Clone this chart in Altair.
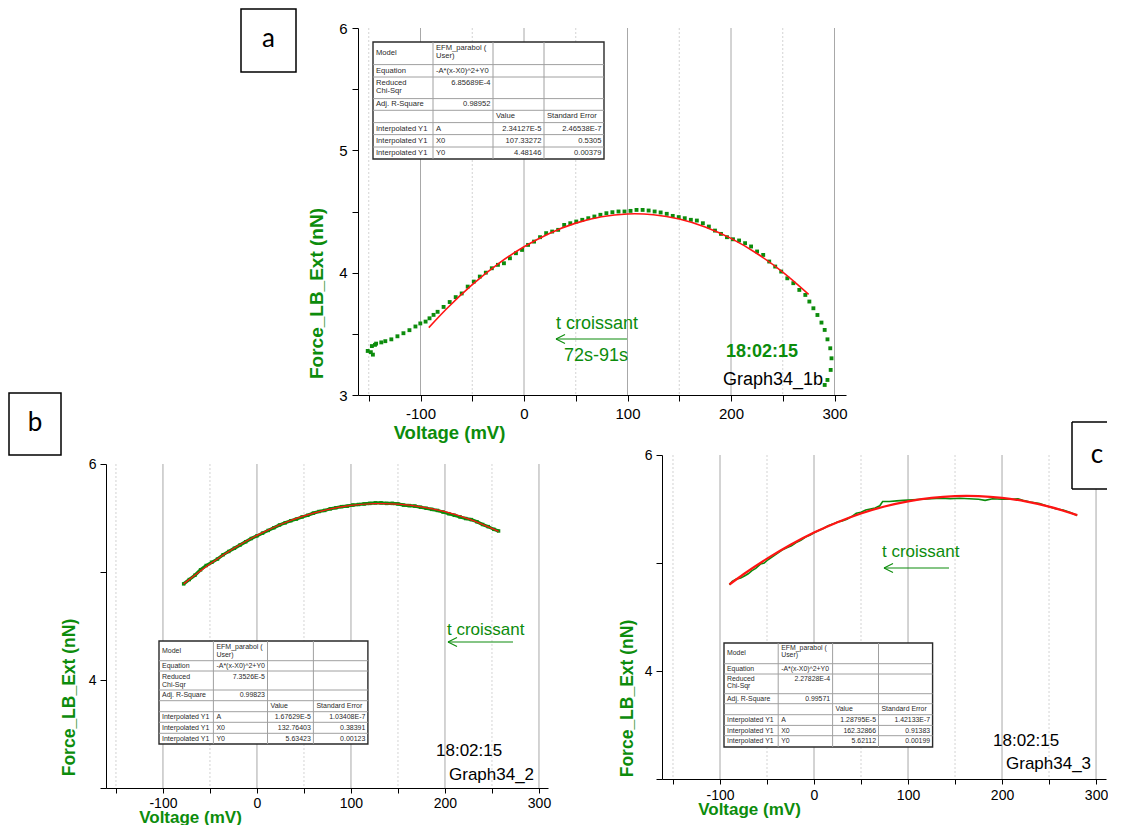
import altair as alt
import pandas as pd

FONT = "Liberation Sans"
GREEN = "#0c8c0c"
RED = "#ff1414"
DUMMY = pd.DataFrame({"d": [0]})

# ---------------- panel a : measured points + fit ----------------
a_volt = [-151, -148, -146, -147, -144, -142.9, -137.9, -134, -128.2, -122.3,
          -116.5, -110.7, -104.9, -100.2, -95.1, -91.3, -87.4, -83.5, -77.7, -71.8,
          -66, -60.2, -54.4, -48.5, -42.7, -36.9, -31.1, -25.2, -19.4, -13.6,
          -7.8, -1.9, 3.9, 9.7, 15.5, 21.4, 27.2, 33, 38.8, 44.7,
          50.5, 56.3, 62.1, 68, 73.8, 79.6, 85.4, 91.3, 97.1, 102.9,
          108.7, 114.6, 120.4, 126.2, 132, 137.9, 143.7, 149.5, 155.3, 161.2,
          167, 172.8, 178.6, 184.5, 190.3, 196.1, 201.9, 207.8, 213.6, 219.4,
          225.2, 231.1, 236.9, 242.7, 248.5, 254.4, 260.2, 266, 271.8, 275.7,
          279.6, 283.5, 287.4, 290.5, 293.2, 295.9, 297.1, 296.3, 293.2, 290.5]
a_force = [3.36, 3.35, 3.33, 3.40, 3.41, 3.42, 3.43, 3.44, 3.455, 3.48,
           3.505, 3.53, 3.56, 3.585, 3.60, 3.627, 3.655, 3.68, 3.72, 3.76,
           3.80, 3.83, 3.886, 3.927, 3.968, 4.00, 4.036, 4.064, 4.077, 4.118,
           4.159, 4.186, 4.227, 4.254, 4.29, 4.323, 4.336, 4.35, 4.39, 4.404,
           4.418, 4.432, 4.445, 4.459, 4.473, 4.486, 4.494, 4.50, 4.50, 4.505,
           4.513, 4.513, 4.508, 4.50, 4.492, 4.481, 4.464, 4.454, 4.445, 4.432,
           4.426, 4.404, 4.377, 4.344, 4.317, 4.29, 4.273, 4.263, 4.241, 4.214,
           4.173, 4.145, 4.091, 4.05, 4.009, 3.954, 3.914, 3.859, 3.818, 3.764,
           3.709, 3.654, 3.592, 3.532, 3.455, 3.382, 3.30, 3.205, 3.123, 3.082]
a_fit_volt = [-92, -75, -50, -25, 0, 25, 50, 75, 100, 107, 125, 150, 175, 200, 225, 250, 275]
a_fit_force = [3.551, 3.703, 3.902, 4.072, 4.212, 4.323, 4.405, 4.457, 4.480, 4.4815,
               4.474, 4.439, 4.374, 4.280, 4.157, 4.005, 3.823]

# ---------------- panel b ----------------
b_volt = [-78, -72, -66, -60, -54, -48, -42, -36, -30, -24, -18, -12, -6, 0, 6, 12, 18, 24, 30,
          36, 42, 48, 54, 60, 66, 72, 78, 84, 90, 96, 102, 108, 114, 120, 126, 132, 138, 144,
          150, 156, 162, 168, 174, 180, 186, 192, 198, 204, 210, 216, 222, 228, 234, 240, 246,
          252, 257]
b_force = [4.89, 4.93, 4.97, 5.02, 5.06, 5.09, 5.12, 5.16, 5.19, 5.22, 5.25, 5.28, 5.31, 5.335,
           5.36, 5.385, 5.41, 5.435, 5.455, 5.475, 5.49, 5.51, 5.525, 5.545, 5.56, 5.57, 5.585,
           5.595, 5.605, 5.61, 5.62, 5.625, 5.63, 5.635, 5.64, 5.64, 5.635, 5.635, 5.63, 5.62,
           5.615, 5.61, 5.60, 5.59, 5.58, 5.57, 5.555, 5.54, 5.525, 5.51, 5.495, 5.485, 5.465,
           5.44, 5.42, 5.395, 5.38]
b_fit_volt = [-78, -50, -25, 0, 25, 50, 75, 100, 125, 133, 150, 175, 200, 225, 257]
b_fit_force = [4.890, 5.074, 5.217, 5.339, 5.440, 5.519, 5.578, 5.616, 5.633, 5.634,
               5.629, 5.604, 5.558, 5.492, 5.376]

# ---------------- panel c ----------------
c_volt = [-90, -87, -83, -78, -74, -70, -66, -62, -57, -53, -49, -44, -39, -34, -29, -24, -19,
          -14, -9, -4, 0, 5, 10, 15, 20, 25, 30, 35, 40, 45, 50, 55, 60, 65, 70, 73, 80, 88,
          95, 105, 115, 125, 135, 145, 155, 165, 175, 182, 190, 200, 210, 217, 222, 230, 240,
          250, 258, 265, 272, 280]
c_force = [4.80, 4.83, 4.85, 4.86, 4.88, 4.90, 4.93, 4.95, 4.99, 5.00, 5.03, 5.06, 5.09, 5.12,
           5.14, 5.16, 5.19, 5.21, 5.24, 5.26, 5.28, 5.30, 5.32, 5.345, 5.36, 5.38, 5.39, 5.405,
           5.43, 5.46, 5.47, 5.49, 5.50, 5.51, 5.53, 5.57, 5.57, 5.575, 5.58, 5.585, 5.59, 5.595,
           5.60, 5.595, 5.60, 5.595, 5.59, 5.58, 5.595, 5.59, 5.59, 5.595, 5.58, 5.565, 5.55,
           5.52, 5.50, 5.49, 5.47, 5.44]
c_fit_volt = [-90, -75, -50, -25, 0, 25, 50, 75, 100, 125, 150, 162, 175, 200, 225, 250, 280]
c_fit_force = [4.801, 4.896, 5.040, 5.169, 5.282, 5.378, 5.459, 5.523, 5.571, 5.603,
               5.619, 5.621, 5.619, 5.603, 5.571, 5.522, 5.443]

# ---------------- axes ticks ----------------
x_ticks = [-150, -100, -50, 0, 50, 100, 150, 200, 250, 300]
grid_major = [-100, 0, 100, 200, 300]
grid_minor = [-150, -50, 50, 150, 250]
ya_ticks = [3, 3.5, 4, 4.5, 5, 5.5, 6]
ybc_ticks = [3, 4, 5, 6]

# ---------------- fit tables ----------------
table_a = [
    ["Model", "EFM_parabol (\nUser)", "", ""],
    ["Equation", "-A*(x-X0)^2+Y0", "", ""],
    ["Reduced\nChi-Sqr", "6.85689E-4", "", ""],
    ["Adj. R-Square", "0.98952", "", ""],
    ["", "", "Value", "Standard Error"],
    ["Interpolated Y1", "A", "2.34127E-5", "2.46538E-7"],
    ["Interpolated Y1", "X0", "107.33272", "0.5305"],
    ["Interpolated Y1", "Y0", "4.48146", "0.00379"],
]
table_b = [
    ["Model", "EFM_parabol (\nUser)", "", ""],
    ["Equation", "-A*(x-X0)^2+Y0", "", ""],
    ["Reduced\nChi-Sqr", "7.3526E-5", "", ""],
    ["Adj. R-Square", "0.99823", "", ""],
    ["", "", "Value", "Standard Error"],
    ["Interpolated Y1", "A", "1.67629E-5", "1.03408E-7"],
    ["Interpolated Y1", "X0", "132.76403", "0.38391"],
    ["Interpolated Y1", "Y0", "5.63423", "0.00123"],
]
table_c = [
    ["Model", "EFM_parabol (\nUser)", "", ""],
    ["Equation", "-A*(x-X0)^2+Y0", "", ""],
    ["Reduced\nChi-Sqr", "2.27828E-4", "", ""],
    ["Adj. R-Square", "0.99571", "", ""],
    ["", "", "Value", "Standard Error"],
    ["Interpolated Y1", "A", "1.28795E-5", "1.42133E-7"],
    ["Interpolated Y1", "X0", "162.32866", "0.91383"],
    ["Interpolated Y1", "Y0", "5.62112", "0.00199"],
]


# ---------------- helpers ----------------
def txt(s, x, y, fs, color="black", align="left", weight="normal", font=FONT, baseline="middle"):
    return alt.Chart(DUMMY).mark_text(text=s, align=align, baseline=baseline, fontSize=fs,
                                      color=color, fontWeight=weight, font=font,
                                      lineHeight=fs * 1.15).encode(
        x=alt.value(x), y=alt.value(y))


def seg(x1, y1, x2, y2, color="black", width=1.0):
    return alt.Chart(DUMMY).mark_rule(color=color, strokeWidth=width).encode(
        x=alt.value(x1), y=alt.value(y1), x2=alt.value(x2), y2=alt.value(y2))


def box(x1, y1, x2, y2, fill="white", stroke="black", sw=1.0):
    return alt.Chart(DUMMY).mark_rect(fill=fill, stroke=stroke, strokeWidth=sw).encode(
        x=alt.value(x1), y=alt.value(y1), x2=alt.value(x2), y2=alt.value(y2))


def is_num(s):
    try:
        float(s)
        return True
    except ValueError:
        return False


def fit_table(x0, y0, col_w, row_h, cells, fs):
    xs = [x0]
    for w in col_w:
        xs.append(xs[-1] + w)
    ys = [y0]
    for h in row_h:
        ys.append(ys[-1] + h)
    layers = [box(xs[0], ys[0], xs[-1], ys[-1], fill="white", stroke="#2a2a2a", sw=1.4)]
    for y in ys[1:-1]:
        layers.append(seg(xs[0], y, xs[-1], y, color="#a0a0a0", width=1))
    for x in xs[1:-1]:
        layers.append(seg(x, ys[0], x, ys[-1], color="#a0a0a0", width=1))
    for r, row in enumerate(cells):
        row_multi = any("\n" in t for t in row)
        for c, s in enumerate(row):
            if not s:
                continue
            num = is_num(s)
            multi = "\n" in s
            x = xs[c + 1] - 2.5 if num else xs[c] + 3
            align = "right" if num else "left"
            if multi or (num and row_multi):
                content = s.split("\n") if multi else s
                layers.append(txt(content, x, ys[r] + 1.5, fs, color="#2a2a2a",
                                  align=align, baseline="top"))
            else:
                layers.append(txt(s, x, (ys[r] + ys[r + 1]) / 2, fs, color="#2a2a2a",
                                  align=align))
    return layers


def arrow(x1, x2, y, color=GREEN):
    return [seg(x1, y, x2, y, color, 1.2),
            seg(x1, y, x1 + 9, y - 4.5, color, 1.2),
            seg(x1, y, x1 + 9, y + 4.5, color, 1.2)]


def x_axis(fs_lab, fs_title, tx, ty, tick, pad):
    return alt.Axis(values=x_ticks,
                    labelExpr="datum.value % 100 == 0 ? '' + datum.value : ''",
                    grid=False, domainColor="black", domainWidth=1, tickColor="black",
                    tickSize=tick, labelFont=FONT, labelFontSize=fs_lab, labelColor="black",
                    labelPadding=pad, labelFlush=False, labelOverlap=False,
                    title="Voltage (mV)", titleFont=FONT, titleFontSize=fs_title,
                    titleFontWeight="bold", titleColor=GREEN, titleX=tx, titleY=ty,
                    titleAlign="center", titleBaseline="middle")


def y_axis(values, expr, fs_lab, fs_title, tx, ty, tick, pad):
    return alt.Axis(values=values, labelExpr=expr, grid=False, domainColor="black",
                    domainWidth=1, tickColor="black", tickSize=tick, labelFont=FONT,
                    labelFontSize=fs_lab, labelColor="black", labelPadding=pad,
                    labelFlush=False, labelOverlap=False,
                    title="Force_LB_Ext (nN)", titleFont=FONT, titleFontSize=fs_title,
                    titleFontWeight="bold", titleColor=GREEN, titleX=tx, titleY=ty,
                    titleAngle=270, titleAlign="center", titleBaseline="middle")


def grid_layers(xs, xa):
    g1 = alt.Chart(pd.DataFrame({"g": grid_major})).mark_rule(
        color="#a8a8a8", strokeWidth=1).encode(x=alt.X("g:Q", scale=xs, axis=xa))
    g2 = alt.Chart(pd.DataFrame({"g": grid_minor})).mark_rule(
        color="#c8c8c8", strokeWidth=0.8, strokeDash=[2, 2]).encode(
        x=alt.X("g:Q", scale=xs, axis=xa))
    return [g1, g2]


NOVIEW = alt.ViewBackground(stroke="transparent", strokeOpacity=0, fill="transparent")

# ---------------- panel a ----------------
xs_a = alt.Scale(domain=[-160.4, 311.1], nice=False, zero=False)
ys_a = alt.Scale(domain=[3, 6], nice=False, zero=False)
xa_a = x_axis(15, 18.5, 91, 37, 6, 5)
ya_a = y_axis(ya_ticks, "datum.value % 1 == 0 ? '' + datum.value : ''", 15, 19, -42, 265, 6, 5)

df_a = pd.DataFrame({"v": a_volt, "f": a_force})
df_af = pd.DataFrame({"v": a_fit_volt, "f": a_fit_force})
layers_a = grid_layers(xs_a, xa_a)
layers_a += fit_table(15, 14, [60, 60, 51, 60], [22.6, 12.4, 21.6, 11.7, 12.3, 12, 12.4, 12], table_a, 7.6)
layers_a.append(alt.Chart(df_a).mark_square(size=15, color=GREEN, opacity=1).encode(
    x=alt.X("v:Q", scale=xs_a, axis=xa_a), y=alt.Y("f:Q", scale=ys_a, axis=ya_a)))
layers_a.append(alt.Chart(df_af).mark_line(color=RED, strokeWidth=1.6, interpolate="monotone").encode(
    x=alt.X("v:Q", scale=xs_a, axis=xa_a), y=alt.Y("f:Q", scale=ys_a, axis=ya_a)))
layers_a.append(txt("t croissant", 198, 296, 18, color=GREEN))
layers_a += arrow(198, 269, 311)
layers_a.append(txt("72s-91s", 206, 328, 18, color=GREEN))
layers_a.append(txt("18:02:15", 368, 324, 18, color=GREEN, weight="bold"))
layers_a.append(txt("Graph34_1b", 365, 352, 18, color="black"))
layers_a.append(box(-117, -19, -62, 44, fill="white", stroke="black", sw=1.5))
layers_a.append(txt("a", -89.5, 11, 26, color="black", align="center", font="Lato"))
panel_a = alt.layer(*layers_a).properties(width=488, height=367, view=NOVIEW)

# ---------------- panel b ----------------
xs_b = alt.Scale(domain=[-160.6, 309.6], nice=False, zero=False)
ys_b = alt.Scale(domain=[3, 6], nice=False, zero=False)
xa_b = x_axis(14, 17, 84, 29, 5, 3)
ya_b = y_axis(ybc_ticks, "datum.value % 2 == 0 ? '' + datum.value : ''", 14, 17.5, -37, 233, 6, 4)
df_b = pd.DataFrame({"v": b_volt, "f": b_force})
df_bf = pd.DataFrame({"v": b_fit_volt, "f": b_fit_force})
layers_b = grid_layers(xs_b, xa_b)
layers_b += fit_table(53, 177, [54.4, 54.1, 45.9, 54.5], [19.7, 10.3, 19, 10.7, 11, 10.6, 11, 10.7], table_b, 7.0)
layers_b.append(alt.Chart(df_b).mark_line(color=GREEN, strokeWidth=3.2).encode(
    x=alt.X("v:Q", scale=xs_b, axis=xa_b), y=alt.Y("f:Q", scale=ys_b, axis=ya_b)))
layers_b.append(alt.Chart(df_b).mark_square(size=12, color=GREEN, opacity=1).encode(
    x=alt.X("v:Q", scale=xs_b, axis=xa_b), y=alt.Y("f:Q", scale=ys_b, axis=ya_b)))
layers_b.append(alt.Chart(df_bf).mark_line(color=RED, strokeWidth=1.3, interpolate="monotone").encode(
    x=alt.X("v:Q", scale=xs_b, axis=xa_b), y=alt.Y("f:Q", scale=ys_b, axis=ya_b)))
layers_b.append(txt("t croissant", 341, 166, 17, color=GREEN))
layers_b += arrow(342, 407, 178)
layers_b.append(txt("18:02:15", 330, 287, 17, color="black"))
layers_b.append(txt("Graph34_2", 343, 311, 17, color="black"))
layers_b.append(box(-97, -71, -45, -9, fill="white", stroke="black", sw=1.5))
layers_b.append(txt("b", -71, -41, 26, color="black", align="center", font="Lato"))
panel_b = alt.layer(*layers_b).properties(width=442, height=324, view=NOVIEW)

# ---------------- panel c ----------------
xs_c = alt.Scale(domain=[-161.7, 310.6], nice=False, zero=False)
ys_c = alt.Scale(domain=[3, 6], nice=False, zero=False)
xa_c = x_axis(14, 17, 87, 30, 5, 4)
ya_c = y_axis(ybc_ticks, "datum.value % 2 == 0 ? '' + datum.value : ''", 14, 17.5, -35, 243, 6, 4)
df_c = pd.DataFrame({"v": c_volt, "f": c_force})
df_cf = pd.DataFrame({"v": c_fit_volt, "f": c_fit_force})
layers_c = grid_layers(xs_c, xa_c)
layers_c += fit_table(62, 188, [54.2, 54.4, 45.9, 54.1], [20.7, 10.3, 19.7, 10, 11, 10.7, 10.3, 11.3], table_c, 6.9)
layers_c.append(alt.Chart(df_c).mark_line(color=GREEN, strokeWidth=1.6).encode(
    x=alt.X("v:Q", scale=xs_c, axis=xa_c), y=alt.Y("f:Q", scale=ys_c, axis=ya_c)))
layers_c.append(alt.Chart(df_cf).mark_line(color=RED, strokeWidth=2.2, interpolate="monotone").encode(
    x=alt.X("v:Q", scale=xs_c, axis=xa_c), y=alt.Y("f:Q", scale=ys_c, axis=ya_c)))
layers_c.append(txt("t croissant", 220, 97, 17, color=GREEN))
layers_c += arrow(222, 287, 113)
layers_c.append(txt("18:02:15", 331, 286, 17, color="black"))
layers_c.append(txt("Graph34_3", 344, 309, 17, color="black"))
layers_c.append(box(410, -33, 445, 34, fill="white", stroke="white", sw=0))
layers_c.append(seg(410, -33, 445, -33, "black", 1.5))
layers_c.append(seg(410, 34, 445, 34, "black", 1.5))
layers_c.append(seg(410, -33, 410, 34, "black", 1.5))
layers_c.append(txt("c", 435, 0, 26, color="black", align="center", font="Lato"))
panel_c = alt.layer(*layers_c).properties(width=444, height=324, view=NOVIEW)

# ---------------- layout ----------------
# Nested concats have zero size under "flush" bounds, so offsets equal the spacings.
spacer_top = alt.Chart(DUMMY).mark_point(opacity=0).encode(
    x=alt.value(0), y=alt.value(0)).properties(width=252, height=10, view=NOVIEW)
spacer_b = alt.Chart(DUMMY).mark_point(opacity=0).encode(
    x=alt.value(0), y=alt.value(0)).properties(width=10, height=9, view=NOVIEW)

row1 = alt.hconcat(spacer_top, panel_a, spacing=0, bounds="flush")
col_b = alt.vconcat(spacer_b, panel_b, spacing=0, bounds="flush")
row2 = alt.hconcat(col_b, panel_c, spacing=556, bounds="flush")

chart = alt.vconcat(row1, row2, spacing=427, bounds="flush").properties(
    padding={"left": 0, "top": 0, "right": 0, "bottom": 0},
    background="white",
).configure_view(stroke="transparent", strokeWidth=0).configure(font=FONT)

chart.save("out.html", embed_options={"renderer": "svg", "actions": False})
